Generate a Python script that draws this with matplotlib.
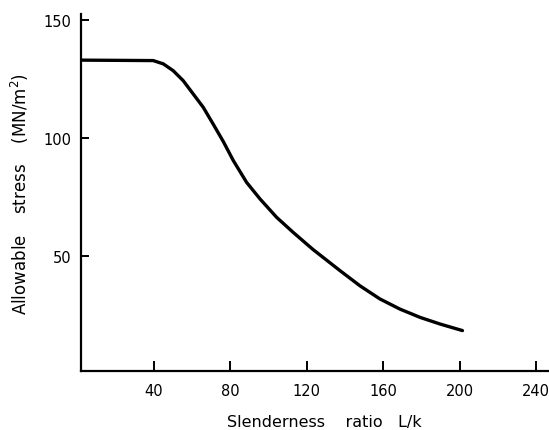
import matplotlib
matplotlib.use("Agg")
import matplotlib.pyplot as plt

# Values
slenderness = [0, 39.6, 44.9, 50.1, 55.3, 60.6, 65.8, 71.0, 76.3, 81.5, 88.5, 95.5,
               104.2, 112.9, 123.2, 137.4, 147.8, 158.3, 168.8, 179.3, 189.7, 201.5]
stress = [133, 132.8, 131.4, 128.5, 124.3, 118.6, 113.0, 105.9, 98.5, 90.5, 81.2, 74.2,
          66.4, 60.0, 52.8, 43.8, 37.4, 31.8, 27.5, 24.0, 21.2, 18.4]

x_ticks = [40, 80, 120, 160, 200, 240]
y_ticks = [50, 100, 150]

fig = plt.figure(figsize=(5.49, 4.31), dpi=100)
ax = fig.add_axes([0.1475, 0.137, 0.8525, 0.828])

ax.plot(slenderness, stress, color="black", lw=2.4,
        solid_capstyle="round", solid_joinstyle="round")

ax.set_xlim(1.8, 246.8)
ax.set_ylim(1.3, 152.5)
ax.set_xticks(x_ticks)
ax.set_yticks(y_ticks)

for side in ["top", "right"]:
    ax.spines[side].set_visible(False)
for side in ["left", "bottom"]:
    ax.spines[side].set_linewidth(1.6)

ax.tick_params(axis="x", direction="in", length=7, width=1.4, pad=9, labelsize=10.5)
ax.tick_params(axis="y", direction="in", length=6, width=1.4, pad=7, labelsize=10.5)

ax.set_xlabel("Slenderness    ratio   L/k", fontsize=11.5, labelpad=11, x=0.52)
ax.set_ylabel("Allowable    stress    (MN/m$^2$)", fontsize=12, labelpad=9)

fig.savefig("out.png", dpi=100)
plt.close(fig)
